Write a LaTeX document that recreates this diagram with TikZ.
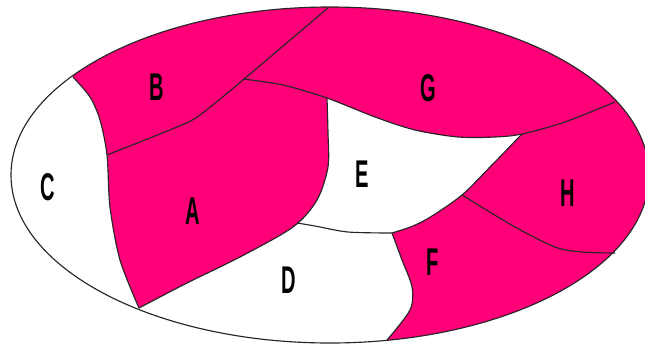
\documentclass[tikz,border=0pt]{standalone}
\usepackage{fontspec}
\setmainfont{Liberation Sans}
\definecolor{dpink}{HTML}{FF0078}
\begin{document}
\begin{tikzpicture}[
    x=0.02cm, y=-0.02cm,
    border/.style={draw=black!85, line width=0.65pt},
    letter/.style={font=\fontsize{22}{22}\selectfont\bfseries, text=black, xscale=0.52, inner sep=0pt},
]
\useasboundingbox (0,0) rectangle (645,345);

% Pink regions, cut by the outline
\begin{scope}
\clip (330,175) ellipse [x radius=319, y radius=168];
\fill[dpink] plot[smooth] coordinates {(73,77) (90,97) (100,120) (107,155) (110,207) (120,260) (139,308)}
    -- plot[smooth] coordinates {(139,308) (187,283) (240,257) (293,227) (317,200) (328,167) (328,133) (327,98)}
    -- plot[smooth] coordinates {(327,98) (375,117) (415,130) (458,137) (495,137) (522,134)}
    -- plot[smooth] coordinates {(522,134) (490,167) (462,195) (432,216) (413,226) (392,233)}
    -- plot[smooth] coordinates {(392,233) (402,260) (412,287) (410,310) (387,340)}
    -- (387,360) -- (670,360) -- (670,-20) -- (60,-20) -- cycle;
\end{scope}

% Region borders
\draw[border] plot[smooth] coordinates {(73,77) (90,97) (100,120) (107,155) (110,207) (120,260) (139,308)};
\draw[border] plot[smooth] coordinates {(139,308) (187,283) (240,257) (293,227) (317,200) (328,167) (328,133) (327,98)};
\draw[border] plot[smooth] coordinates {(243,79) (283,85) (327,98) (375,117) (415,130) (458,137) (495,137) (522,134) (565,122) (615,102)};
\draw[border] plot[smooth] coordinates {(522,134) (490,167) (462,195) (432,216) (413,226) (392,233)};
\draw[border] plot[smooth] coordinates {(392,233) (402,260) (412,287) (410,310) (387,340)};
\draw[border] plot[smooth] coordinates {(297,223) (315,226) (348,232) (392,233)};
\draw[border] plot[smooth] coordinates {(107,155) (177,127) (200,115) (243,80)};
\draw[border] (243,80) -- (328,8);
\draw[border] plot[smooth] coordinates {(462,195) (515,227) (555,247) (582,252) (615,253)};

% Outline
\draw[border] (330,175) ellipse [x radius=319, y radius=168];

% Letters
\node[letter] (a) at (193,211) {A};
\node[letter] (b) at (157,87) {B};
\node[letter] (c) at (48,187) {C};
\node[letter] (d) at (289,280) {D};
\node[letter] (e) at (362,174) {E};
\node[letter] (f) at (433,262) {F};
\node[letter] (g) at (428,88) {G};
\node[letter] (h) at (568,193) {H};

\end{tikzpicture}
\end{document}
